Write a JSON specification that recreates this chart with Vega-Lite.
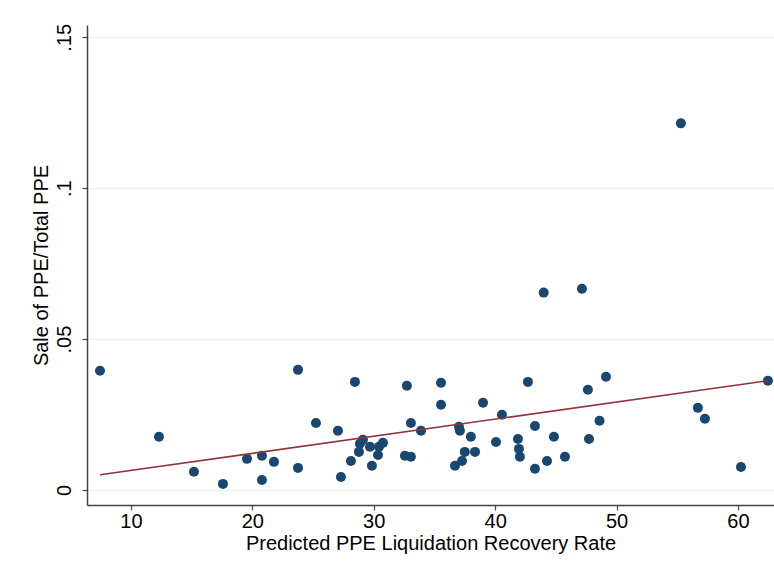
{
  "$schema": "https://vega.github.io/schema/vega-lite/v6.json",
  "width": 687,
  "height": 480,
  "autosize": {"type": "none"},
  "padding": {"left": 87, "top": 25, "right": 0, "bottom": 72},
  "background": "white",
  "config": {
    "view": {"stroke": null},
    "font": "Liberation Sans",
    "axis": {
      "labelFont": "Liberation Sans",
      "titleFont": "Liberation Sans",
      "labelFontSize": 20,
      "titleFontSize": 20,
      "labelColor": "#000000",
      "titleColor": "#000000",
      "titleFontWeight": "normal",
      "domainColor": "#444444",
      "tickColor": "#444444",
      "domainWidth": 1.5,
      "tickWidth": 1.2,
      "tickSize": 5
    }
  },
  "datasets": {
    "points": [
      {"x": 7.45, "y": 0.0395}, {"x": 12.31, "y": 0.0176}, {"x": 15.19, "y": 0.006}, {"x": 17.58, "y": 0.002},
      {"x": 19.56, "y": 0.0103}, {"x": 20.79, "y": 0.0113}, {"x": 21.78, "y": 0.0093}, {"x": 20.79, "y": 0.0033},
      {"x": 23.76, "y": 0.0073}, {"x": 23.76, "y": 0.0398}, {"x": 25.24, "y": 0.0222}, {"x": 27.05, "y": 0.0196},
      {"x": 28.45, "y": 0.0358}, {"x": 29.11, "y": 0.0166}, {"x": 28.86, "y": 0.0153}, {"x": 29.69, "y": 0.0143},
      {"x": 28.78, "y": 0.0126}, {"x": 30.76, "y": 0.0156}, {"x": 30.43, "y": 0.0143}, {"x": 30.35, "y": 0.0116},
      {"x": 28.12, "y": 0.0096}, {"x": 29.85, "y": 0.008}, {"x": 27.3, "y": 0.0043}, {"x": 32.73, "y": 0.0345},
      {"x": 33.06, "y": 0.0222}, {"x": 33.89, "y": 0.0196}, {"x": 32.57, "y": 0.0113}, {"x": 33.06, "y": 0.011},
      {"x": 35.54, "y": 0.0355}, {"x": 35.54, "y": 0.0282}, {"x": 39.0, "y": 0.0289}, {"x": 37.02, "y": 0.0209},
      {"x": 37.1, "y": 0.0196}, {"x": 38.0, "y": 0.0176}, {"x": 37.5, "y": 0.0126}, {"x": 38.34, "y": 0.0126},
      {"x": 37.27, "y": 0.0096}, {"x": 36.69, "y": 0.008}, {"x": 40.07, "y": 0.0159}, {"x": 40.56, "y": 0.0249},
      {"x": 42.7, "y": 0.0358}, {"x": 41.88, "y": 0.0169}, {"x": 41.96, "y": 0.0136}, {"x": 42.04, "y": 0.011},
      {"x": 43.28, "y": 0.0212}, {"x": 43.28, "y": 0.007}, {"x": 44.27, "y": 0.0096}, {"x": 44.84, "y": 0.0176},
      {"x": 45.75, "y": 0.011}, {"x": 47.64, "y": 0.0332}, {"x": 49.13, "y": 0.0375}, {"x": 48.6, "y": 0.0229},
      {"x": 47.73, "y": 0.0169}, {"x": 56.7, "y": 0.0272}, {"x": 57.28, "y": 0.0236}, {"x": 60.25, "y": 0.0076},
      {"x": 62.47, "y": 0.0362}, {"x": 55.3, "y": 0.1215}, {"x": 44.0, "y": 0.0654}, {"x": 47.15, "y": 0.0667}
    ],
    "fit": [
      {"x": 7.45, "y": 0.005},
      {"x": 62.47, "y": 0.0362}
    ]
  },
  "layer": [
    {
      "data": {"name": "points"},
      "mark": {"type": "circle", "size": 100, "opacity": 1, "color": "#1a476f"},
      "encoding": {
        "x": {
          "field": "x", "type": "quantitative",
          "scale": {"domain": [6.38, 62.97], "nice": false, "zero": false},
          "axis": {
            "values": [10, 20, 30, 40, 50, 60],
            "grid": false,
            "title": "Predicted PPE Liquidation Recovery Rate",
            "labelPadding": 1,
            "titlePadding": 2
          }
        },
        "y": {
          "field": "y", "type": "quantitative",
          "scale": {"domain": [-0.005, 0.1541], "nice": false, "zero": false},
          "axis": {
            "values": [0, 0.05, 0.1, 0.15],
            "grid": true,
            "gridColor": "#eaf2f3",
            "gridWidth": 1.5,
            "labelAngle": -90,
            "labelAlign": "center",
            "labelBaseline": "bottom",
            "labelPadding": 8,
            "labelExpr": "datum.value == 0 ? '0' : replace(format(datum.value, '.2~f'), '0.', '.')",
            "title": "Sale of PPE/Total PPE",
            "titlePadding": 3
          }
        }
      }
    },
    {
      "data": {"name": "fit"},
      "mark": {"type": "line", "color": "#90353b", "strokeWidth": 1.6},
      "encoding": {
        "x": {"field": "x", "type": "quantitative"},
        "y": {"field": "y", "type": "quantitative"}
      }
    }
  ]
}
